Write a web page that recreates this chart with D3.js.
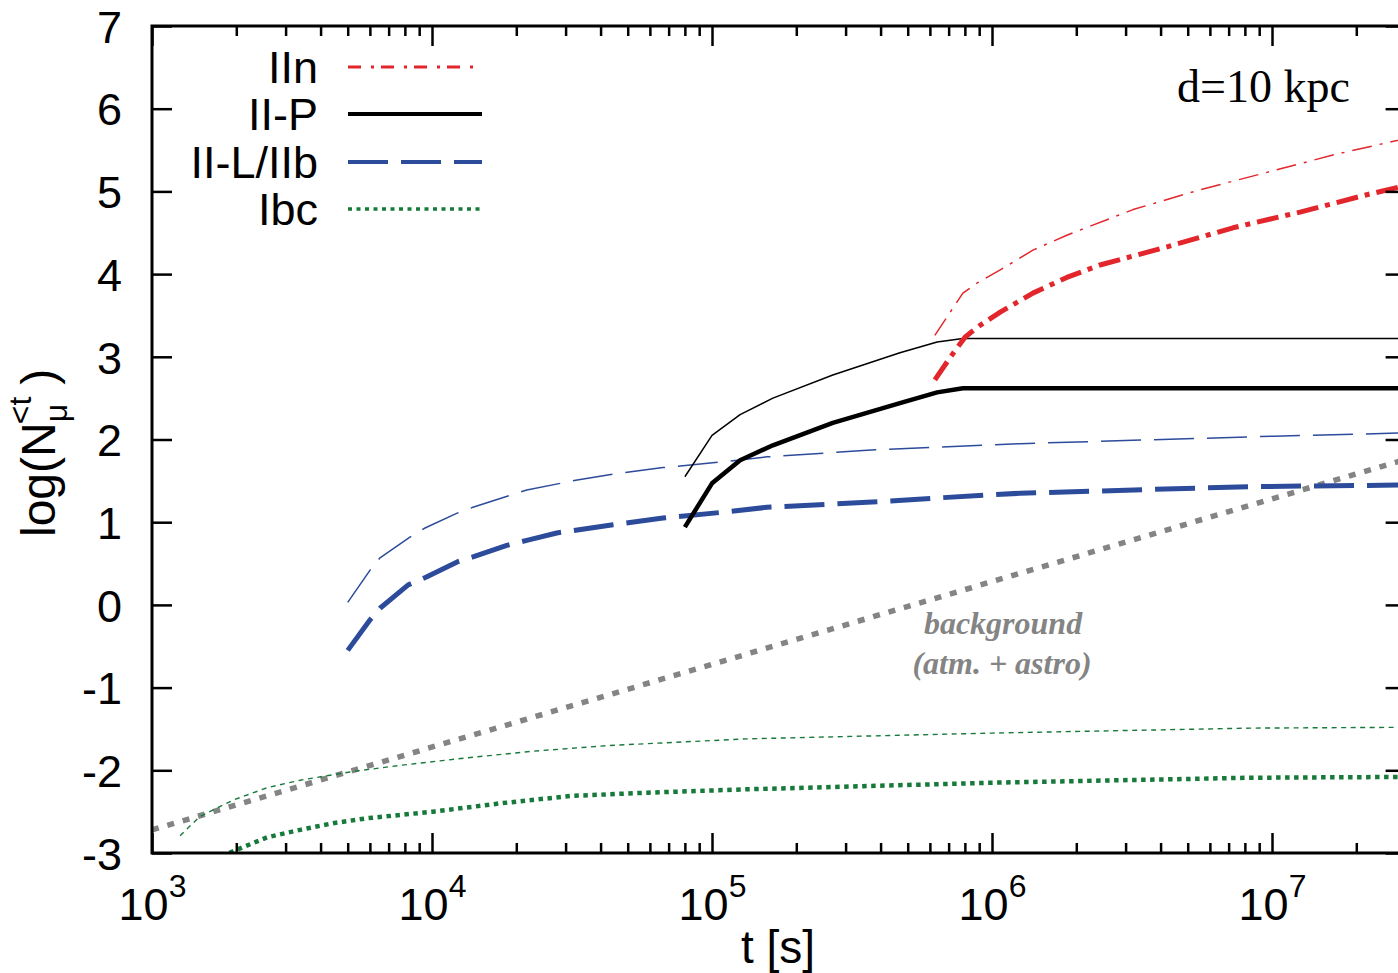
<!DOCTYPE html>
<html>
<head>
<meta charset="utf-8">
<script src="https://cdn.jsdelivr.net/npm/d3@7"></script>
<style>
  body { margin: 0; background: #fff; }
  svg { display: block; }
</style>
</head>
<body>
<svg id="chart" width="1398" height="973"></svg>
<script>
// ---- data: [time in s, log10 of cumulative muon events] ----
const iinThin  = [[6.25e5,3.26],[7.87e5,3.77],[8.83e5,3.89],[1.07e6,4.05],[1.40e6,4.29],[1.85e6,4.47],[3.19e6,4.78],[5.53e6,5.02],[9.59e6,5.23],[1.65e7,5.44],[3.0e7,5.64]];
const iinThick = [[6.25e5,2.72],[7.08e5,2.99],[8.02e5,3.24],[9.06e5,3.38],[1.07e6,3.54],[1.40e6,3.77],[1.85e6,3.96],[2.43e6,4.11],[4.22e6,4.33],[7.26e6,4.56],[1.26e7,4.75],[2.18e7,4.96],[3.0e7,5.07]];
const iipThin  = [[8.0e4,1.55],[1.0e5,2.05],[1.26e5,2.30],[1.65e5,2.50],[2.70e5,2.78],[4.69e5,3.05],[6.37e5,3.18],[7.87e5,3.22],[3.0e7,3.22]];
const iipThick = [[8.0e4,0.94],[1.0e5,1.47],[1.26e5,1.75],[1.65e5,1.93],[2.70e5,2.20],[4.69e5,2.44],[6.37e5,2.57],[7.87e5,2.62],[3.0e7,2.62]];
const iilThin  = [[5.0e3,0.03],[6.01e3,0.42],[6.52e3,0.57],[8.34e3,0.82],[9.44e3,0.93],[1.23e4,1.11],[1.40e4,1.18],[2.18e4,1.39],[3.30e4,1.51],[4.43e4,1.58],[6.68e4,1.66],[1.09e5,1.73],[1.57e5,1.79],[3.58e5,1.87],[1.26e6,1.95],[1.02e7,2.04],[3.0e7,2.08]];
const iilThick = [[5.0e3,-0.55],[6.01e3,-0.18],[6.52e3,-0.04],[8.20e3,0.24],[9.59e3,0.34],[1.23e4,0.52],[1.40e4,0.58],[1.85e4,0.72],[2.18e4,0.78],[2.79e4,0.87],[4.43e4,0.97],[6.68e4,1.05],[1.09e5,1.12],[1.57e5,1.18],[3.58e5,1.24],[6.15e5,1.29],[1.26e6,1.35],[8.34e6,1.43],[3.0e7,1.45]];
const ibcThin  = [[1.26e3,-2.79],[1.48e3,-2.56],[1.95e3,-2.36],[2.58e3,-2.21],[3.38e3,-2.12],[5.09e3,-2.02],[7.69e3,-1.94],[1.33e4,-1.85],[2.28e4,-1.77],[4.29e4,-1.70],[1.33e5,-1.62],[1.0e6,-1.55],[8.34e6,-1.49],[3.0e7,-1.48]];
const ibcThick = [[1.66e3,-3.10],[1.85e3,-3.01],[2.58e3,-2.81],[3.38e3,-2.72],[4.43e3,-2.64],[5.86e3,-2.58],[1.01e4,-2.50],[1.75e4,-2.40],[3.13e4,-2.31],[5.90e4,-2.27],[1.33e5,-2.23],[1.0e6,-2.15],[8.34e6,-2.09],[3.0e7,-2.08]];
const background = [[1.0e3,-2.72],[3.0e7,1.76]];

const legendNames = ["IIn", "II-P", "II-L/IIb", "Ibc"];
const yTickValues = [-3, -2, -1, 0, 1, 2, 3, 4, 5, 6, 7];
const xMajorTicks = [1e3, 1e4, 1e5, 1e6, 1e7];
const xExponents  = ["3", "4", "5", "6", "7"];

// ---- layout ----
const plotLeft = 152, plotTop = 26, plotBottom = 853, plotRight = 1405.6;
const sans = "'Liberation Sans', Arial, Helvetica, sans-serif";
const serif = "'Liberation Serif', 'Times New Roman', serif";
const RED = "#e2262c", BLUE = "#2d4b9b", GREEN = "#177a3a", GRAY = "#848484";

const svg = d3.select("#chart");
const x = d3.scaleLog().domain([1e3, 3e7]).range([plotLeft, plotRight]);
const y = d3.scaleLinear().domain([-3, 7]).range([plotBottom, plotTop]);

svg.append("rect").attr("width", 1398).attr("height", 973).attr("fill", "#fff");

svg.append("defs").append("clipPath").attr("id", "plotArea")
  .append("rect").attr("x", plotLeft).attr("y", plotTop)
  .attr("width", plotRight - plotLeft).attr("height", plotBottom - plotTop);

const line = d3.line().x(d => x(d[0])).y(d => y(d[1]));

const curves = [
  { data: background, color: GRAY,  width: 5.5, dash: "7,9" },
  { data: ibcThin,    color: GREEN, width: 1.4, dash: "5,4.5" },
  { data: ibcThick,   color: GREEN, width: 4.5, dash: "4.5,4.5" },
  { data: iilThin,    color: BLUE,  width: 1.5, dash: "40,13" },
  { data: iilThick,   color: BLUE,  width: 5,   dash: "40,13" },
  { data: iipThin,    color: "#000", width: 1.5, dash: null },
  { data: iipThick,   color: "#000", width: 4.5, dash: null },
  { data: iinThin,    color: RED,   width: 1.5, dash: "20,8,3,8" },
  { data: iinThick,   color: RED,   width: 5,   dash: "22,7,5,7" }
];

const plot = svg.append("g").attr("clip-path", "url(#plotArea)");
plot.selectAll("path.curve").data(curves).join("path")
  .attr("class", "curve")
  .attr("d", d => line(d.data))
  .attr("fill", "none")
  .attr("stroke", d => d.color)
  .attr("stroke-width", d => d.width)
  .attr("stroke-dasharray", d => d.dash)
  .attr("stroke-linejoin", "round");

// ---- axes ----
const xMinorTicks = [];
for (let e = 3; e <= 7; e++) for (let m = 2; m <= 9; m++) {
  const v = m * Math.pow(10, e);
  if (v <= 3e7) xMinorTicks.push(v);
}

function styleAxis(g) {
  g.select(".domain").remove();
  g.selectAll(".tick line").attr("stroke", "#000").attr("stroke-width", 2.5);
}

svg.append("g").attr("transform", `translate(0,${plotBottom})`)
  .call(d3.axisBottom(x).tickValues(xMinorTicks).tickSize(-10).tickFormat(() => ""))
  .call(styleAxis);
svg.append("g").attr("transform", `translate(0,${plotTop})`)
  .call(d3.axisTop(x).tickValues(xMinorTicks).tickSize(-10).tickFormat(() => ""))
  .call(styleAxis);
svg.append("g").attr("transform", `translate(0,${plotTop})`)
  .call(d3.axisTop(x).tickValues(xMajorTicks).tickSize(-20).tickFormat(() => ""))
  .call(styleAxis);

const xBottom = svg.append("g").attr("transform", `translate(0,${plotBottom})`)
  .call(d3.axisBottom(x).tickValues(xMajorTicks).tickSize(-20).tickFormat(() => ""))
  .call(styleAxis);
xBottom.selectAll(".tick text").remove();
xBottom.selectAll(".tick").append("text")
  .attr("y", 67).attr("x", 0)
  .attr("text-anchor", "middle")
  .attr("fill", "#000")
  .style("font-family", sans).style("font-size", "45px")
  .each(function(d, i) {
    const t = d3.select(this);
    t.append("tspan").text("10");
    t.append("tspan").attr("dy", -23).style("font-size", "32px").text(xExponents[i]);
  });

const yLeft = svg.append("g").attr("transform", `translate(${plotLeft},0)`)
  .call(d3.axisLeft(y).tickValues(yTickValues).tickSize(-20).tickPadding(30).tickFormat(d3.format("d")))
  .call(styleAxis);
yLeft.selectAll(".tick text")
  .attr("fill", "#000")
  .style("font-family", sans).style("font-size", "45px")
  .attr("dy", "0.36em")
  .text(d => d < 0 ? "-" + Math.abs(d) : String(d));

svg.append("g").attr("transform", `translate(${plotRight},0)`)
  .call(d3.axisRight(y).tickValues(yTickValues).tickSize(-20).tickFormat(() => ""))
  .call(styleAxis);

// frame
svg.append("rect")
  .attr("x", plotLeft).attr("y", plotTop)
  .attr("width", plotRight - plotLeft).attr("height", plotBottom - plotTop)
  .attr("fill", "none").attr("stroke", "#000").attr("stroke-width", 3);

// ---- axis titles ----
svg.append("text")
  .attr("x", 778).attr("y", 963)
  .attr("text-anchor", "middle")
  .style("font-family", sans).style("font-size", "46px")
  .text("t [s]");

const yTitle = svg.append("text")
  .attr("transform", "translate(55,0) rotate(-90)")
  .attr("x", -537).attr("y", 0)
  .style("font-family", sans).style("font-size", "48px");
yTitle.append("tspan").text("log(N");
const mu = yTitle.append("tspan").attr("dy", 12).style("font-size", "32px").text("μ");
const muLen = mu.node().getComputedTextLength();
yTitle.append("tspan").attr("dx", -muLen - 2).attr("dy", -36).style("font-size", "32px").text("<t");
yTitle.append("tspan").attr("dx", 12).attr("dy", 24).text(")");

// ---- legend ----
const legendRows = [
  { color: RED,    width: 3.2, dash: "13,10,3,7", end: 475 },
  { color: "#000", width: 4,   dash: null,        end: 482 },
  { color: BLUE,   width: 4,   dash: "40,13",     end: 482 },
  { color: GREEN,  width: 3.5, dash: "4,4.5",     end: 482 }
];
const legendY = [67, 114, 162, 209];
legendNames.forEach((name, i) => {
  svg.append("text")
    .attr("x", 318).attr("y", legendY[i] + 16)
    .attr("text-anchor", "end")
    .style("font-family", sans).style("font-size", "45px")
    .text(name);
  svg.append("line")
    .attr("x1", 348).attr("x2", legendRows[i].end)
    .attr("y1", legendY[i]).attr("y2", legendY[i])
    .attr("stroke", legendRows[i].color)
    .attr("stroke-width", legendRows[i].width)
    .attr("stroke-dasharray", legendRows[i].dash);
});

// ---- annotations ----
svg.append("text")
  .attr("x", 1177).attr("y", 102)
  .style("font-family", serif).style("font-size", "46px")
  .text("d=10 kpc");

svg.append("text")
  .attr("x", 1003).attr("y", 634)
  .attr("text-anchor", "middle")
  .attr("fill", GRAY)
  .style("font-family", serif).style("font-size", "32px")
  .style("font-weight", "bold").style("font-style", "italic")
  .text("background");
svg.append("text")
  .attr("x", 1002).attr("y", 674)
  .attr("text-anchor", "middle")
  .attr("fill", GRAY)
  .style("font-family", serif).style("font-size", "32px")
  .style("font-weight", "bold").style("font-style", "italic")
  .text("(atm. + astro)");
</script>
</body>
</html>
